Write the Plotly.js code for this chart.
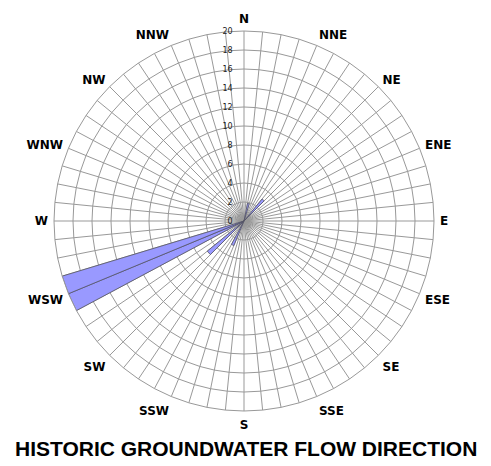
<!DOCTYPE html>
<html>
<head>
<meta charset="utf-8">
<script src="https://cdn.plot.ly/plotly-3.0.1.min.js"></script>
<style>html,body{margin:0;padding:0;background:#fff;}#chart{width:491px;height:466px;}</style>
</head>
<body>
<div id="chart"></div>
<script>
// Compass direction labels (16-point)
const compassLabels = ["N","NNE","NE","ENE","E","ESE","SE","SSE","S","SSW","SW","WSW","W","WNW","NW","NNW"];
// Flow direction bins (degrees, clockwise from north) and frequency counts
const binDirections = [14.0625, 42.1875, 205.3125, 227.8125, 244.6875, 250.3125];
const binCounts     = [1.9,     3.0,     2.8,      5.0,      20,       20];
const radialTicks = [0,2,4,6,8,10,12,14,16,18,20];

// 64 spokes, labels on every 4th
const spokeVals = [], spokeText = [];
for (let i = 0; i < 64; i++) {
  spokeVals.push(i * 5.625);
  spokeText.push(i % 4 === 0 ? compassLabels[i / 4] : "");
}

const trace = {
  type: "barpolar",
  theta: binDirections,
  r: binCounts,
  width: 5.625,
  marker: { color: "#9999ff", line: { color: "#555566", width: 0.8 } },
  hoverinfo: "skip"
};

const layout = {
  width: 491, height: 466,
  margin: { l: 0, r: 0, t: 0, b: 0 },
  paper_bgcolor: "#fff",
  showlegend: false,
  polar: {
    domain: { x: [54/491, 434/491], y: [1 - 411/466, 1 - 31/466] },
    bgcolor: "#fff",
    bargap: 0,
    angularaxis: {
      direction: "clockwise",
      rotation: 90,
      tickmode: "array",
      tickvals: spokeVals,
      ticktext: spokeText,
      ticks: "outside",
      ticklen: 3,
      tickcolor: "rgba(0,0,0,0)",
      showline: true,
      linecolor: "#999",
      linewidth: 1,
      gridcolor: "#999",
      gridwidth: 1,
      tickfont: { family: "DejaVu Sans", size: 12, color: "#000", weight: "bold" }
    },
    radialaxis: {
      range: [0, 20],
      tickmode: "array",
      tickvals: radialTicks,
      ticktext: radialTicks.map(String),
      angle: 90,
      tickangle: 90,
      side: "counterclockwise",
      showline: false,
      ticks: "outside",
      ticklen: 8,
      tickcolor: "rgba(0,0,0,0)",
      gridcolor: "#999",
      gridwidth: 1,
      tickfont: { family: "DejaVu Sans", size: 8, color: "#222" }
    }
  },
  annotations: [{
    text: "<b>HISTORIC GROUNDWATER FLOW DIRECTION</b>",
    x: 0.5, y: 1 - 448/466, xref: "paper", yref: "paper",
    xanchor: "center", yanchor: "middle", showarrow: false,
    font: { family: "Liberation Sans", size: 21, color: "#000" }
  }]
};

Plotly.newPlot("chart", [trace], layout, { displayModeBar: false, staticPlot: true });
</script>
</body>
</html>
